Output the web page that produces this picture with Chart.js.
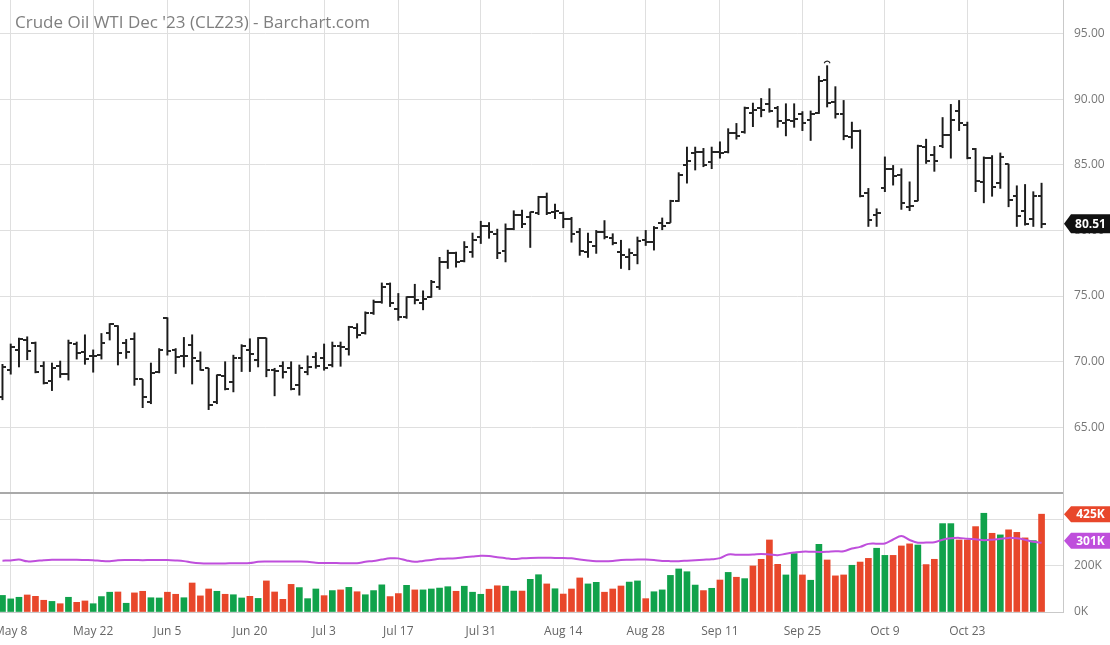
<!DOCTYPE html>
<html>
<head>
<meta charset="utf-8">
<script src="https://cdn.jsdelivr.net/npm/chart.js@4.4.0/dist/chart.umd.min.js"></script>
<style>
html,body{margin:0;padding:0;background:#fff;overflow:hidden}
canvas{display:block}
</style>
</head>
<body>
<canvas id="c" width="1110" height="645"></canvas>
<script>
const TITLE = "Crude Oil WTI Dec '23 (CLZ23) - Barchart.com";

const DATES = [
 'May 5','May 8','May 9','May 10','May 11','May 12','May 15','May 16','May 17','May 18','May 19',
 'May 22','May 23','May 24','May 25','May 26','May 30','May 31',
 'Jun 1','Jun 2','Jun 5','Jun 6','Jun 7','Jun 8','Jun 9','Jun 12','Jun 13','Jun 14','Jun 15','Jun 16',
 'Jun 20','Jun 21','Jun 22','Jun 23','Jun 26','Jun 27','Jun 28','Jun 29','Jun 30',
 'Jul 3','Jul 5','Jul 6','Jul 7','Jul 10','Jul 11','Jul 12','Jul 13','Jul 14','Jul 17','Jul 18','Jul 19','Jul 20','Jul 21',
 'Jul 24','Jul 25','Jul 26','Jul 27','Jul 28','Jul 31',
 'Aug 1','Aug 2','Aug 3','Aug 4','Aug 7','Aug 8','Aug 9','Aug 10','Aug 11','Aug 14','Aug 15','Aug 16','Aug 17','Aug 18',
 'Aug 21','Aug 22','Aug 23','Aug 24','Aug 25','Aug 28','Aug 29','Aug 30','Aug 31',
 'Sep 1','Sep 5','Sep 6','Sep 7','Sep 8','Sep 11','Sep 12','Sep 13','Sep 14','Sep 15','Sep 18','Sep 19','Sep 20','Sep 21','Sep 22',
 'Sep 25','Sep 26','Sep 27','Sep 28','Sep 29',
 'Oct 2','Oct 3','Oct 4','Oct 5','Oct 6','Oct 9','Oct 10','Oct 11','Oct 12','Oct 13','Oct 16','Oct 17','Oct 18','Oct 19','Oct 20',
 'Oct 23','Oct 24','Oct 25','Oct 26','Oct 27','Oct 30','Oct 31',
 'Nov 1','Nov 2','Nov 3'
];

const TICK_DATES = ['May 8','May 22','Jun 5','Jun 20','Jul 3','Jul 17','Jul 31','Aug 14','Aug 28','Sep 11','Sep 25','Oct 9','Oct 23'];

const OPEN = [
 67.3,69.4,70.9,71.65,71.45,69.65,68.5,69.65,69.05,71.35,
 70.75,70.45,70.5,72.15,72.7,71.45,71.75,68.65,66.9,69.25,
 73.3,70.9,70.4,71.25,70.05,69.5,66.95,68.9,68.45,70.25,
 70.9,70.1,71.8,69.4,69.65,69.5,68.2,69.25,70.35,70.25,
 69.75,71.2,71.0,72.6,72.2,73.7,74.55,75.95,74.05,73.4,
 74.9,74.5,74.95,75.7,77.6,78.25,77.65,78.35,79.5,80.3,
 79.7,78.45,80.1,81.2,81.05,81.3,82.55,81.4,81.35,80.85,
 79.85,78.35,78.85,79.85,79.45,78.35,78.0,78.1,79.25,79.1,
 80.6,80.6,82.25,85.0,85.9,86.0,85.2,86.0,85.95,87.4,
 87.5,88.95,89.35,89.6,89.35,88.2,88.35,88.9,88.4,88.95,
 91.45,89.8,88.9,87.1,87.55,82.85,81.15,83.25,84.7,84.2,
 81.8,82.25,86.35,85.75,86.4,87.25,89.1,88.0,86.2,83.7,
 85.5,83.6,85.05,82.6,81.5,80.85,82.6
];
const HIGH = [
 69.8,71.35,71.8,71.9,71.5,70.0,69.9,70.05,71.65,71.5,
 72.05,70.9,72.15,72.9,72.75,71.7,72.2,68.65,69.9,71.0,
 73.35,71.0,71.85,72.05,70.75,69.5,69.0,70.0,70.5,71.3,
 71.75,71.85,71.8,69.5,70.0,70.0,69.75,70.45,70.7,71.35,
 71.5,71.5,72.7,72.9,73.8,74.7,76.0,76.0,75.2,74.95,
 75.9,75.4,76.2,77.95,78.5,78.35,79.15,79.8,80.7,80.6,
 80.1,80.5,81.5,81.55,81.4,82.6,82.85,82.0,81.4,81.0,
 80.15,79.8,80.0,80.75,79.75,79.25,78.6,79.5,80.0,80.3,
 80.95,82.3,84.4,86.35,86.35,86.25,86.35,86.75,87.75,88.15,
 89.4,89.7,90.05,90.8,89.45,89.65,89.65,89.05,89.1,91.75,
 92.55,90.95,89.9,88.25,87.65,83.2,81.65,85.6,84.95,84.7,
 83.7,86.5,86.95,86.4,88.6,89.6,89.9,88.25,86.25,85.6,
 85.7,85.9,85.05,83.4,83.5,82.95,83.6
];
const LOW = [
 67.1,69.05,69.6,70.15,69.15,68.3,67.8,68.8,68.6,70.2,
 69.8,69.2,70.2,71.65,69.75,70.25,68.2,66.5,66.8,69.15,
 70.5,69.1,69.6,68.3,69.35,66.35,66.8,67.85,67.7,69.25,
 69.25,69.6,68.85,67.4,68.75,67.85,67.45,69.0,69.5,69.35,
 69.6,69.65,70.5,71.8,72.1,73.6,74.45,74.2,73.15,73.3,
 74.4,73.95,74.9,75.5,77.1,77.2,77.6,77.95,79.0,79.4,
 77.85,77.6,80.05,80.2,78.7,81.2,81.2,80.9,80.2,79.1,
 78.1,77.95,78.25,79.35,78.9,77.1,77.0,77.45,78.85,78.5,
 80.05,80.6,82.2,83.6,84.6,84.85,84.7,85.5,85.9,86.95,
 87.4,87.9,88.65,89.0,87.85,87.2,87.85,87.6,86.85,88.9,
 89.4,88.55,86.9,86.25,82.55,80.3,80.3,82.95,83.45,81.6,
 81.5,82.25,85.1,84.5,86.3,85.5,87.6,85.45,82.95,82.1,
 82.6,83.2,81.8,80.3,80.4,80.3,80.2
];
const CLOSE = [
 69.6,71.15,71.7,70.8,69.25,68.35,69.5,69.05,71.4,70.65,
 70.2,70.45,71.4,72.85,70.7,70.75,68.65,67.35,69.15,70.9,
 70.8,70.35,70.45,70.25,69.4,66.7,68.95,67.95,70.25,71.2,
 70.6,71.8,69.4,69.3,69.2,67.9,69.5,69.6,69.7,69.5,
 71.2,71.1,72.65,72.0,73.7,74.55,75.7,74.45,73.4,74.9,
 74.7,74.8,76.1,77.6,78.25,77.6,78.75,79.3,80.35,79.9,
 78.3,80.1,81.2,80.5,81.4,82.55,81.35,81.5,80.85,79.75,
 78.4,79.1,79.85,79.5,79.05,78.1,78.25,79.2,79.1,80.15,
 80.3,82.25,84.2,85.3,86.0,84.95,85.95,85.9,87.45,87.2,
 89.3,89.2,89.15,89.1,88.3,88.4,88.5,88.2,88.9,91.4,
 89.7,88.9,87.2,87.6,82.6,80.8,81.3,84.65,84.15,82.1,
 81.85,86.45,85.3,85.25,87.25,88.4,88.15,85.5,83.75,85.55,
 83.3,85.6,82.3,81.1,80.5,82.6,80.51
];

const VOLUME_K = [
 72,57,64,74,68,51,46,36,64,42,
 48,36,67,86,87,38,83,90,62,61,
 86,77,62,126,70,100,90,77,75,61,
 68,59,135,87,55,120,106,58,100,71,
 93,96,107,88,75,93,118,67,80,116,
 96,96,100,104,110,90,112,86,77,99,
 114,112,91,91,142,162,122,101,78,100,
 148,122,129,86,100,113,130,135,58,88,
 96,159,187,175,117,93,103,139,172,151,
 145,200,229,313,207,161,254,161,138,294,
 226,157,161,203,217,233,277,246,246,287,
 296,291,206,229,384,384,313,313,371,429,
 342,335,357,346,322,310,425
];
const VOLUME_AVG_K = [
 223,224,228,220,222,225,227,227,227,227,
 226,225,222,221,225,226,226,225,226,226,
 226,224,221,215,212,211,211,211,212,212,
 213,218,219,219,219,219,219,218,214,213,
 213,212,212,212,218,222,228,233,233,224,
 218,222,226,231,232,234,238,241,244,243,
 238,234,230,233,235,236,236,235,235,233,
 228,224,221,220,222,226,227,228,228,226,
 222,221,221,223,225,227,229,234,250,249,
 249,250,252,250,247,253,258,262,262,261,
 262,264,264,276,283,296,297,298,315,330,
 313,301,302,303,314,320,322,318,316,312,
 314,318,322,320,314,305,301
];

const PRICE_TICKS = [60,65,70,75,80,85,90,95];
const VOLUME_TICKS_K = [0,200,400];

/* ---------- styling ---------- */
const UP = '#10a24b', DOWN = '#e8472b', AVG = '#bf4fdc', BAR = '#1b1b1b';
const GRID = '#dfdfdf', BORDER = '#c9c9c9';
Chart.defaults.font.family = "'Open Sans', 'DejaVu Sans', sans-serif";

const idx = DATES.map((_, i) => i);
const tickIdx = TICK_DATES.map(d => DATES.indexOf(d));
const volColors = CLOSE.map((c, i) => (i === 0 || c >= CLOSE[i - 1]) ? UP : DOWN);
const lastI = CLOSE.length - 1;

function tickImage(left) {
  const c = document.createElement('canvas');
  c.width = 8; c.height = 2;
  const g = c.getContext('2d');
  g.fillStyle = '#262626';
  g.fillRect(left ? 0 : 4, 0, 4, 2);
  return c;
}
const openImg = tickImage(true), closeImg = tickImage(false);

function drawTag(ctx, x0, y, w, h, color, text) {
  ctx.save();
  ctx.fillStyle = color;
  ctx.beginPath();
  ctx.moveTo(x0, y);
  ctx.lineTo(x0 + 7, y - h / 2);
  ctx.lineTo(x0 + w, y - h / 2);
  ctx.lineTo(x0 + w, y + h / 2);
  ctx.lineTo(x0 + 7, y + h / 2);
  ctx.closePath();
  ctx.fill();
  ctx.fillStyle = '#fff';
  ctx.font = "bold 12px 'Open Sans', sans-serif";
  ctx.textAlign = 'center';
  ctx.textBaseline = 'middle';
  ctx.fillText(text, x0 + 7 + (w - 7) / 2, y + 0.5);
  ctx.restore();
}

const overlay = {
  id: 'overlay',
  afterDraw(chart) {
    const ctx = chart.ctx, a = chart.chartArea;
    const xs = chart.scales.x, yp = chart.scales.y, yv = chart.scales.yv;
    // panel separator
    ctx.save();
    ctx.strokeStyle = '#a9a9a9';
    ctx.lineWidth = 2;
    ctx.beginPath();
    ctx.moveTo(a.left, yp.bottom);
    ctx.lineTo(a.right, yp.bottom);
    ctx.stroke();
    // title
    ctx.fillStyle = '#7f7f7f';
    ctx.font = "17px 'Open Sans', sans-serif";
    ctx.textAlign = 'left';
    ctx.textBaseline = 'alphabetic';
    ctx.fillText(TITLE, 15, 28);
    // high marker
    let hi = 0;
    HIGH.forEach((h, i) => { if (h > HIGH[hi]) hi = i; });
    const hx = xs.getPixelForValue(hi), hy = yp.getPixelForValue(HIGH[hi]);
    ctx.strokeStyle = '#222';
    ctx.lineWidth = 1.2;
    ctx.beginPath();
    ctx.arc(hx, hy - 1.5, 3, Math.PI * 1.1, Math.PI * 1.9);
    ctx.stroke();
    ctx.restore();
    // tags
    const x0 = a.right + 1;
    drawTag(ctx, x0, yp.getPixelForValue(CLOSE[lastI]), 46, 19, '#111', CLOSE[lastI].toFixed(2));
    drawTag(ctx, x0, yv.getPixelForValue(VOLUME_K[lastI] * 1000), 46, 16, DOWN, VOLUME_K[lastI] + 'K');
    drawTag(ctx, x0, yv.getPixelForValue(VOLUME_AVG_K[lastI] * 1000) - 2, 46, 16, AVG, VOLUME_AVG_K[lastI] + 'K');
  }
};

new Chart(document.getElementById('c'), {
  type: 'bar',
  data: {
    datasets: [
      {
        type: 'line', label: 'Avg volume', yAxisID: 'yv', order: 0,
        data: idx.map(i => ({x: i, y: VOLUME_AVG_K[i] * 1000})),
        borderColor: AVG, borderWidth: 2, pointRadius: 0, tension: 0.35, fill: false
      },
      {
        type: 'bar', label: 'Volume', yAxisID: 'yv', order: 3, grouped: false,
        data: idx.map(i => ({x: i, y: VOLUME_K[i] * 1000})),
        backgroundColor: volColors, barThickness: 6, borderWidth: 0
      },
      {
        type: 'bar', label: 'Range', yAxisID: 'y', order: 2, grouped: false,
        data: idx.map(i => ({x: i, y: [LOW[i], HIGH[i]]})),
        backgroundColor: BAR, barThickness: 1.3, borderWidth: 0
      },
      {
        type: 'scatter', label: 'Open', yAxisID: 'y', order: 1,
        data: idx.map(i => ({x: i, y: OPEN[i]})),
        pointStyle: openImg, pointRadius: 3, pointHoverRadius: 3, pointBorderWidth: 0
      },
      {
        type: 'scatter', label: 'Close', yAxisID: 'y', order: 1,
        data: idx.map(i => ({x: i, y: CLOSE[i]})),
        pointStyle: closeImg, pointRadius: 3, pointHoverRadius: 3, pointBorderWidth: 0
      }
    ]
  },
  options: {
    responsive: false,
    animation: false,
    devicePixelRatio: 1,
    layout: {padding: 0, autoPadding: false},
    plugins: {legend: {display: false}, tooltip: {enabled: false}, title: {display: false}},
    scales: {
      x: {
        type: 'linear', min: -0.3, max: 128.6, offset: false,
        grid: {color: GRID, drawTicks: false, offset: false},
        border: {color: BORDER},
        afterBuildTicks: s => { s.ticks = tickIdx.map(v => ({value: v})); },
        ticks: {autoSkip: false, maxRotation: 0, padding: 12, color: '#666', font: {size: 12},
                callback: v => DATES[v]},
        afterFit: s => { s.height = 33; s.paddingLeft = 0; s.paddingRight = 0; }
      },
      y: {
        type: 'linear', position: 'right', stack: 'panes', stackWeight: 493,
        min: 60, max: 97.55,
        grid: {color: GRID, drawTicks: false},
        border: {color: BORDER},
        afterBuildTicks: s => { s.ticks = PRICE_TICKS.map(v => ({value: v})); },
        ticks: {padding: 11, color: '#777', font: {size: 12},
                callback: v => v === PRICE_TICKS[0] ? '' : Number(v).toFixed(2)},
        afterFit: s => { s.width = 47; s.paddingTop = 0; s.paddingBottom = 0; }
      },
      yv: {
        type: 'linear', position: 'right', stack: 'panes', stackWeight: 119,
        min: 0, max: 517000,
        grid: {color: GRID, drawTicks: false},
        border: {color: BORDER},
        afterBuildTicks: s => { s.ticks = VOLUME_TICKS_K.map(v => ({value: v * 1000})); },
        ticks: {padding: 11, color: '#777', font: {size: 12},
                // the top label sits under the last-volume tag and is not shown
                callback: v => v / 1000 === VOLUME_TICKS_K[VOLUME_TICKS_K.length - 1] ? '' : Math.round(v / 1000) + 'K'},
        afterFit: s => { s.width = 47; s.paddingTop = 0; s.paddingBottom = 0; }
      }
    }
  },
  plugins: [overlay]
});
</script>
</body>
</html>
